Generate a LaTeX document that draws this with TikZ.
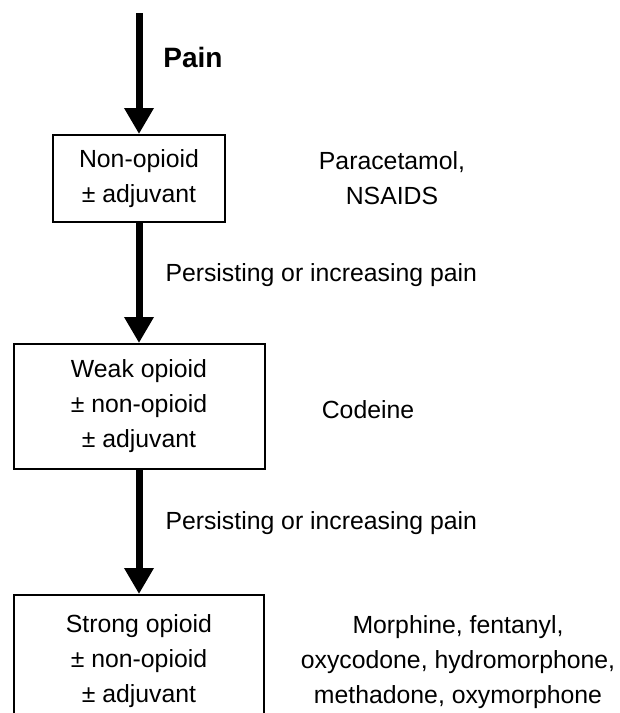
\documentclass[tikz,border=0pt]{standalone}
\usepackage{fontspec}
\setmainfont{Liberation Sans}
\usetikzlibrary{arrows.meta}

\begin{document}
\begin{tikzpicture}[x=0.5pt,y=-0.5pt,
  every node/.style={font=\fontsize{12.4}{17.5}\selectfont,align=center,inner sep=0pt},
  stepbox/.style={draw,line width=1pt},
  bigarrow/.style={-{Triangle[length=13pt,width=14pt]},line width=3.5pt}]
\useasboundingbox (0,0) rectangle (620,713);
\coordinate (S) at (139,13);
\node[font=\bfseries\fontsize{14}{17}\selectfont] (P) at (193,57) {Pain};
\node[stepbox,minimum width=86pt,minimum height=43.5pt] (N) at (139,178.5) {Non-opioid\\± adjuvant};
\node[stepbox,minimum width=125.5pt,minimum height=62.5pt] (W) at (139,406.5) {Weak opioid\\± non-opioid\\± adjuvant};
\node[stepbox,minimum width=125pt,minimum height=66pt,anchor=north] (G) at (139,594) {Strong opioid\\± non-opioid\\± adjuvant};
\node (NX) at (392,178.5) {Paracetamol,\\NSAIDS};
\node (WX) at (368,410) {Codeine};
\node (GX) at (458,662) {Morphine, fentanyl,\\oxycodone, hydromorphone,\\methadone, oxymorphone};
\path[bigarrow]
  (S) edge (N)
  (N) edge node [right,pos=0.43,xshift=11.5pt] {Persisting or increasing pain} (W)
  (W) edge node [right,pos=0.43,xshift=11.5pt] {Persisting or increasing pain} (G)
;
\end{tikzpicture}
\end{document}
